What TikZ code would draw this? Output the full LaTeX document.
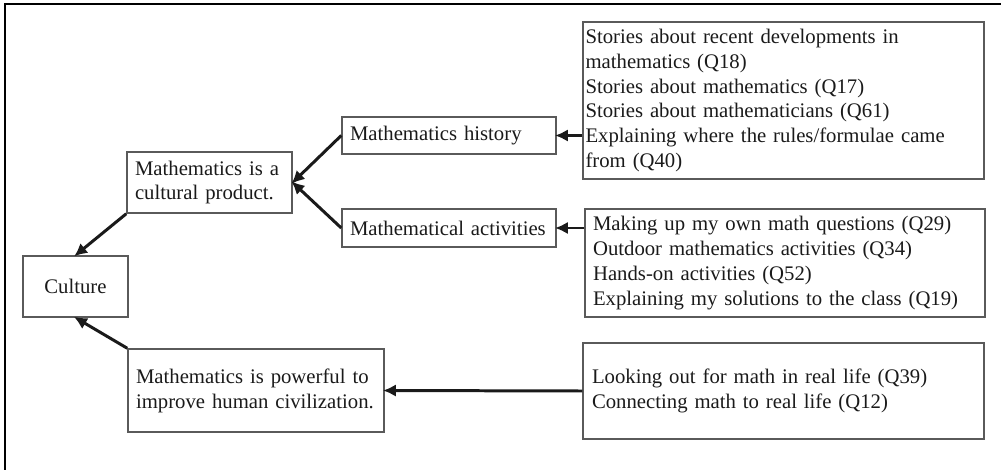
\documentclass[tikz,border=0pt]{standalone}
\usepackage{fontspec}
\setmainfont{Liberation Serif}
\usetikzlibrary{arrows.meta}
\definecolor{boxgray}{HTML}{5A5A5A}
\definecolor{inkgray}{HTML}{1A1A1A}
\tikzset{
  box/.style={draw=boxgray, line width=0.85pt, text=inkgray, align=left,
    inner ysep=0pt, font=\fontsize{11.8}{14.2}\selectfont},
  arr/.style={line width=1.7pt, draw=inkgray,
    -{Latex[length=0.26cm,width=0.25cm]}, shorten >=-1pt}
}
\begin{document}
\begin{tikzpicture}[x=0.02cm,y=-0.02cm]
  \useasboundingbox (0,0) rectangle (1001,470);
  \draw[line width=1.7pt] (5,470) -- (5,4) -- (1001,4);
  % left column
  \node[box,align=center,minimum width=2.1cm,minimum height=1.22cm] (culture) at (75.5,286.5) {Culture};
  \node[box,inner xsep=0.16cm,text width=2.98cm,minimum height=1.22cm] (product) at (209.5,182.5)
    {Mathematics is a\\cultural product.};
  \node[box,inner xsep=0.16cm,text width=4.8cm,minimum height=1.66cm] (powerful) at (256,390.5)
    {Mathematics is powerful to\\improve human civilization.};
  % middle column
  \node[box,inner xsep=0.16cm,text width=3.96cm,minimum height=0.74cm] (history) at (449,135.5)
    {Mathematics history};
  \node[box,inner xsep=0.16cm,text width=3.96cm,minimum height=0.76cm] (activities) at (449,228)
    {Mathematical activities};
  % right column
  \node[box,inner xsep=0.05cm,text width=7.92cm,minimum height=3.14cm] (stories) at (783.5,100.5)
    {Stories about recent developments in\\mathematics (Q18)\\Stories about mathematics (Q17)\\
     Stories about mathematicians (Q61)\\Explaining where the rules/formulae came\\from (Q40)};
  \node[box,inner xsep=0.16cm,text width=7.68cm,minimum height=2.16cm] (doing) at (785,263)
    {Making up my own math questions (Q29)\\Outdoor mathematics activities (Q34)\\
     Hands-on activities (Q52)\\Explaining my solutions to the class (Q19)};
  \node[box,inner xsep=0.18cm,text width=7.66cm,minimum height=1.92cm] (reallife) at (783.5,391)
    {Looking out for math in real life (Q39)\\Connecting math to real life (Q12)};
  % connectors
  \draw[arr] (history.east -| stories.west) -- (history.east);
  \draw[arr] (activities.east -| doing.west) -- (activities.east);
  \draw[arr] (reallife.west) -- (powerful.east);
  \draw[arr] (history.west) -- (product.east);
  \draw[arr] (activities.west) -- (product.east);
  \draw[arr] (product.south west) -- (culture.north);
  \draw[arr] (powerful.north west) -- (culture.south);
\end{tikzpicture}
\end{document}
